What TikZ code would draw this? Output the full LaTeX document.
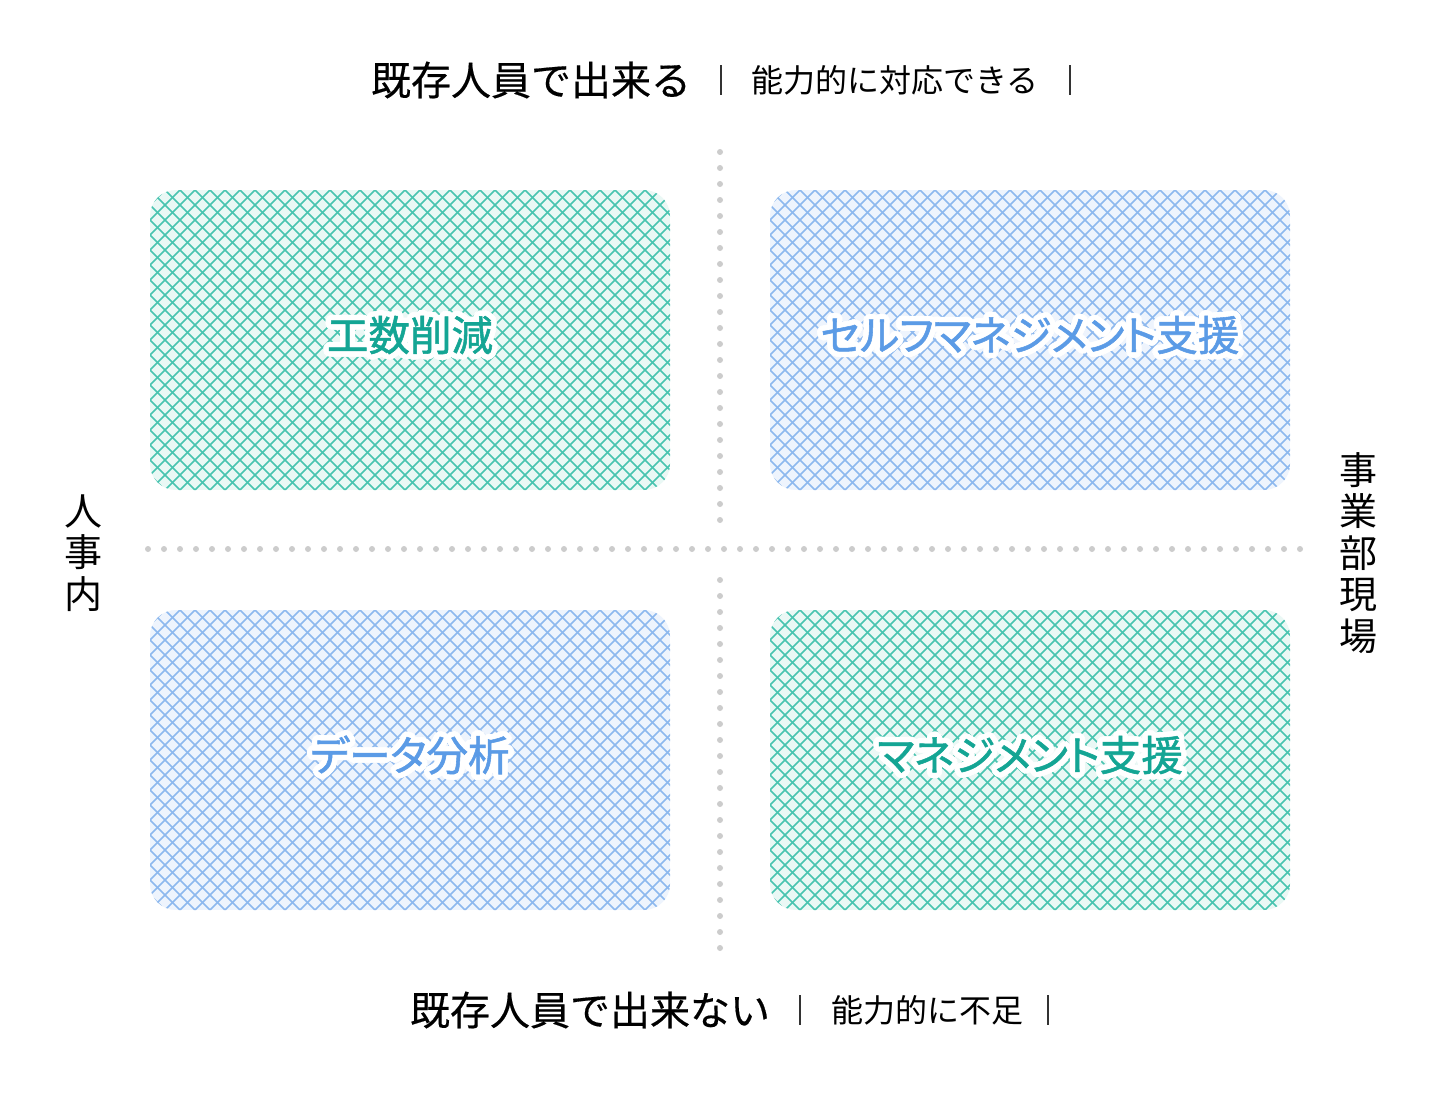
\documentclass[tikz,border=0pt]{standalone}
\usepackage{fontspec}
\setmainfont{Noto Sans CJK JP}
\newfontfamily\qfont[FakeBold=1.3,RawFeature=+palt]{Noto Sans CJK JP}
\newfontfamily\tfont[FakeBold=0.4]{Noto Sans CJK JP}
\usetikzlibrary{calc}
\definecolor{gline}{HTML}{48C4B0}
\definecolor{gfill}{HTML}{EAF8F5}
\definecolor{bline}{HTML}{8DB8EE}
\definecolor{bfill}{HTML}{EEF4FD}
\definecolor{gtext}{HTML}{14A594}
\definecolor{btext}{HTML}{5B9BE6}
\definecolor{dotc}{HTML}{CCCCCC}
\definecolor{sepc}{HTML}{333333}
\newcommand{\hatchbox}[5]{% x0 y0 name linecolor fillcolor
  \begin{scope}
    \path[clip,rounded corners=26] (#1,#2) rectangle ++(520,300);
    \fill[#5] (#1,#2) rectangle ++(520,300);
    \foreach \k in {-315,-300,...,530} {
      \draw[#4,line width=1.5] ({#1+\k},#2) -- ++(300,300);
      \draw[#4,line width=1.5] ({#1+\k},{#2+300}) -- ++(300,-300);
    }
  \end{scope}
  \coordinate (#3) at ({#1+260},{#2+145});
}
\newcommand{\halolabel}[4]{% name at color text
  \foreach \a in {0,15,...,345} {
    \node[qtext,text=white] at ($(#2)+(\a:5.5)$) {#4};
    \node[qtext,text=white] at ($(#2)+(\a:3)$) {#4};
  }
  \node[qtext,text=#3] (#1) at (#2) {#4};
}
\tikzset{
  qtext/.style={font=\qfont\fontsize{41.5}{46}\selectfont,inner sep=0},
  bigtitle/.style={font=\tfont\fontsize{40}{46}\selectfont,inner sep=0,text=black},
  subtitle/.style={font=\fontsize{32}{38}\selectfont,inner sep=0,text=black},
  vtext/.style={font=\fontsize{38}{41.5}\selectfont,inner sep=0,align=center,text=black},
  sep/.style={draw=sepc,line width=1.2},
  dot/.style={fill=dotc}
}
\begin{document}
\begin{tikzpicture}[x=1pt,y=-1pt]
\useasboundingbox (0,0) rectangle (1440,1100);
\fill[white] (0,0) rectangle (1440,1100);

% quadrants
\hatchbox{150}{190}{qtl}{gline}{gfill}
\hatchbox{770}{190}{qtr}{bline}{bfill}
\hatchbox{150}{610}{qbl}{bline}{bfill}
\hatchbox{770}{610}{qbr}{gline}{gfill}

% dotted axes
\foreach \i in {0,...,72} \fill[dot] ({148+16*\i},549) circle (3);
\foreach \i in {0,...,23} \fill[dot] (720,{152+16*\i}) circle (3);
\foreach \i in {0,...,23} \fill[dot] (720,{580+16*\i}) circle (3);

% quadrant labels
\halolabel{ltl}{qtl}{gtext}{工数削減}
\halolabel{ltr}{qtr}{btext}{セルフマネジメント支援}
\halolabel{lbl}{qbl}{btext}{データ分析}
\halolabel{lbr}{qbr}{gtext}{マネジメント支援}

% top labels
\node[bigtitle] (top) at (531,80) {既存人員で出来る};
\coordinate (s1a) at (721,65); \coordinate (s1b) at (721,95);
\draw[sep] (s1a) -- (s1b);
\node[subtitle] (topsub) at (895,80) {能力的に対応できる};
\coordinate (s2a) at (1070,65); \coordinate (s2b) at (1070,95);
\draw[sep] (s2a) -- (s2b);

% bottom labels
\node[bigtitle] (bot) at (590,1010) {既存人員で出来ない};
\coordinate (s3a) at (800,995); \coordinate (s3b) at (800,1025);
\draw[sep] (s3a) -- (s3b);
\node[subtitle] (botsub) at (927,1010) {能力的に不足};
\coordinate (s4a) at (1048,995); \coordinate (s4b) at (1048,1025);
\draw[sep] (s4a) -- (s4b);

% side labels
\node[vtext] (left) at (83,553) {人\\事\\内};
\node[vtext] (right) at (1358,553) {事\\業\\部\\現\\場};
\end{tikzpicture}
\end{document}
